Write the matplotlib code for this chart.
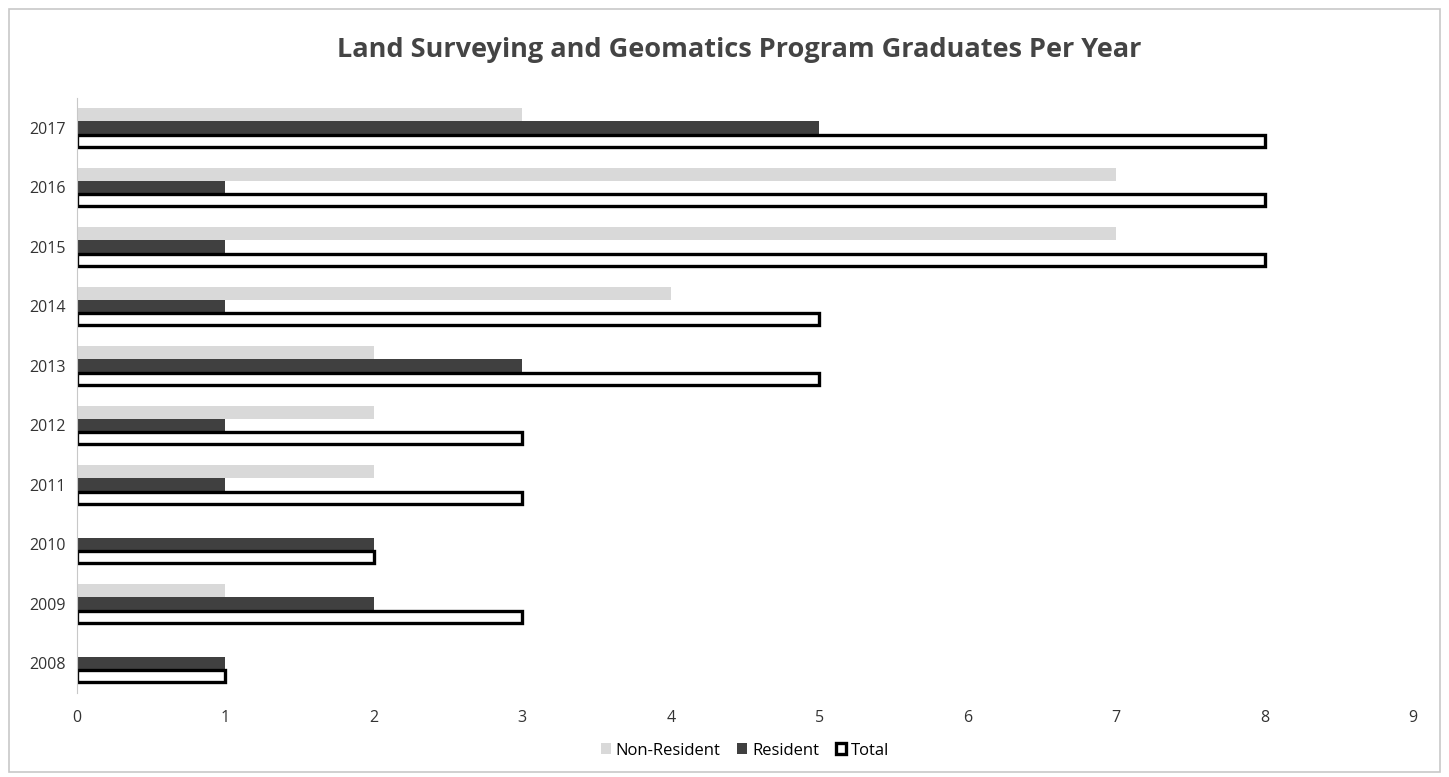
import matplotlib
matplotlib.use("Agg")
import matplotlib.pyplot as plt
import numpy as np
from matplotlib.patches import Rectangle

years = ["2008", "2009", "2010", "2011", "2012", "2013", "2014", "2015", "2016", "2017"]
non_resident = [0, 1, 0, 2, 2, 2, 4, 7, 7, 3]
resident = [1, 2, 2, 1, 1, 3, 1, 1, 1, 5]
total = [1, 3, 2, 3, 3, 5, 5, 8, 8, 8]

plt.rcParams['font.family'] = ['Open Sans', 'DejaVu Sans']

fig = plt.figure(figsize=(14.49, 7.77), dpi=100)
ax = fig.add_axes([0.0531, 0.108, 0.9221, 0.766])

y = np.arange(len(years))
h = 0.22
ax.barh(y + h, non_resident, height=h, color='#d9d9d9', label='Non-Resident')
ax.barh(y, resident, height=h, color='#404040', label='Resident')
ax.barh(y - h, total, height=h * 0.92, color='white', edgecolor='black', linewidth=2.4, label='Total')

ax.set_xlim(0, 9)
ax.set_ylim(-0.5, len(years) - 0.5)
ax.set_yticks(y)
ax.set_yticklabels(years, fontsize=11.5, color='#333333')
ax.set_xticks(range(10))
ax.set_xticklabels([str(i) for i in range(10)], fontsize=11.5, color='#333333')
ax.tick_params(axis='x', length=0, pad=12)
ax.tick_params(axis='y', length=0, pad=8)
for s in ['top', 'right', 'bottom']:
    ax.spines[s].set_visible(False)
ax.spines['left'].set_color('#c8c8c8')

fig.suptitle('Land Surveying and Geomatics Program Graduates Per Year', x=0.51, y=0.952,
             fontsize=19.5, fontweight='bold', color='#444444')

ax.legend(loc='upper center', bbox_to_anchor=(0.5, -0.058), ncol=3, frameon=False,
          fontsize=12, handlelength=0.6, handleheight=0.6, handletextpad=0.3,
          columnspacing=1.0)

fig.patches.append(Rectangle((0.006, 0.006), 0.988, 0.982, transform=fig.transFigure,
                             fill=False, edgecolor='#c8c8c8', linewidth=1.2))

fig.savefig('out.png', dpi=100)
